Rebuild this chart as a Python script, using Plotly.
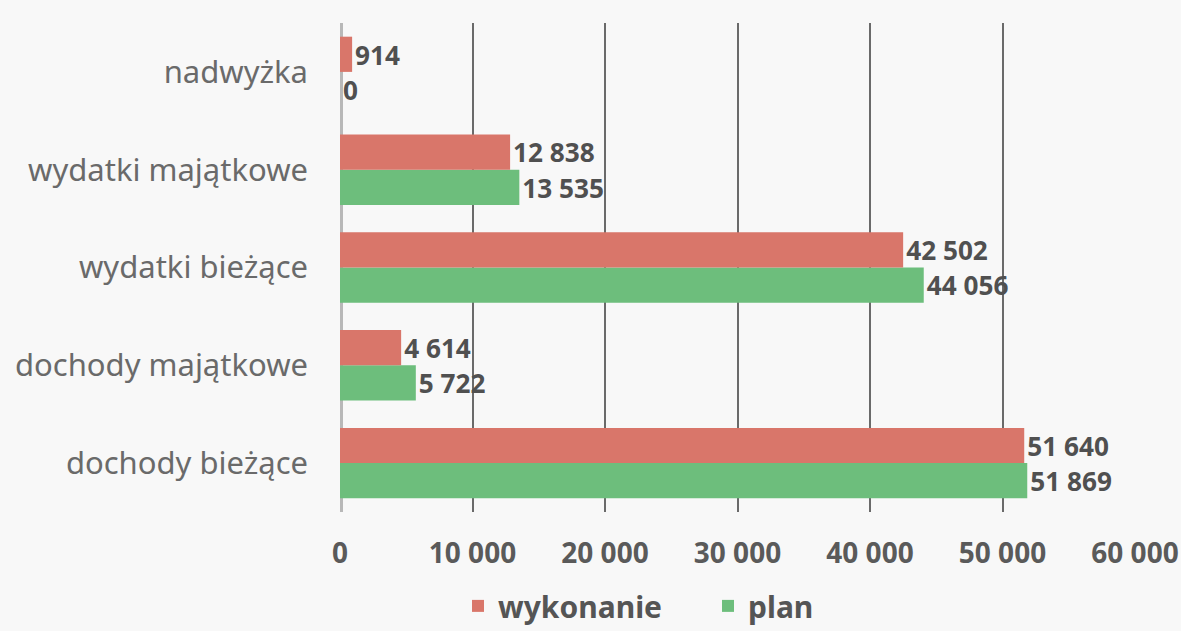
import plotly.graph_objects as go

categories = ["dochody bieżące", "dochody majątkowe", "wydatki bieżące", "wydatki majątkowe", "nadwyżka"]
wykonanie = [51640, 4614, 42502, 12838, 914]
plan = [51869, 5722, 44056, 13535, 0]
tick_vals = [0, 10000, 20000, 30000, 40000, 50000, 60000]

font_family = "Noto Sans, Open Sans, sans-serif"

fig = go.Figure()
fig.add_trace(go.Bar(
    name="plan", y=categories, x=plan, orientation="h",
    marker=dict(color="#6DBE7C", line=dict(width=0)),
    texttemplate="%{x:,d}", textposition="outside", cliponaxis=False,
    textfont=dict(family=font_family, size=29, color="#505050", weight="bold"),
))
fig.add_trace(go.Bar(
    name="wykonanie", y=categories, x=wykonanie, orientation="h",
    marker=dict(color="#D9766A", line=dict(width=0)),
    texttemplate="%{x:,d}", textposition="outside", cliponaxis=False,
    textfont=dict(family=font_family, size=29, color="#505050", weight="bold"),
))

fig.update_layout(
    width=1181, height=631,
    margin=dict(l=340, r=46, t=23, b=119, autoexpand=False),
    paper_bgcolor="#F8F8F8", plot_bgcolor="#F8F8F8",
    barmode="group", bargap=0.28, bargroupgap=0.0,
    separators=", ",
    font=dict(family=font_family, color="#606060"),
    showlegend=True,
    legend=dict(orientation="h", xref="container", x=458/1181, xanchor="left",
                yref="paper", y=-0.192, yanchor="middle",
                traceorder="reversed", entrywidth=205, entrywidthmode="pixels",
                font=dict(family=font_family, size=30, color="#555555", weight="bold"),
                itemwidth=30, bgcolor="rgba(0,0,0,0)"),
    xaxis=dict(range=[0, 60000], tickvals=tick_vals, tickformat=",d",
               showgrid=True, gridcolor="#6A6A6A", gridwidth=1.5,
               zeroline=False, showline=False, ticks="",
               ticklabelstandoff=22, automargin=False,
               tickfont=dict(family=font_family, size=28, color="#5A5A5A", weight="bold")),
    yaxis=dict(showgrid=False, zeroline=False, showline=False, ticks="",
               ticklabelstandoff=31, automargin=False,
               tickfont=dict(family=font_family, size=31, color="#6A6A6A")),
)
fig.add_vline(x=0, line=dict(color="#B8B8B8", width=6), layer="below")

fig.write_html(
    "out.html",
    config={"displayModeBar": False},
    post_script="document.body.style.margin='0';document.body.style.overflow='hidden';document.body.style.background='#F8F8F8';",
)
